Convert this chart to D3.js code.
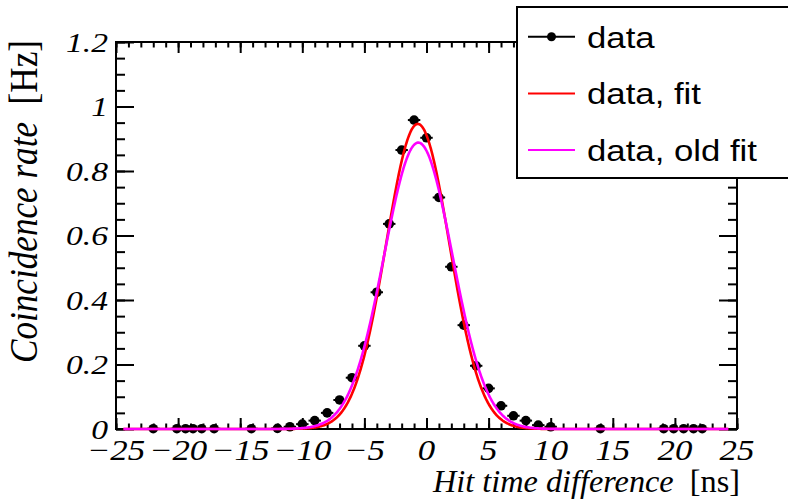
<!DOCTYPE html>
<html>
<head>
<meta charset="utf-8">
<script src="https://cdn.jsdelivr.net/npm/d3@7"></script>
<style>
  body { margin: 0; background: #fff; }
  svg { display: block; }
</style>
</head>
<body>
<script>
// chart data
const timeDiff = [-22, -20.1, -19.4, -18.8, -18.1, -17.1, -14.1, -12, -11, -10, -9, -8, -7, -6, -5, -4, -3, -2, -1, 0,
                  1, 2, 3, 4, 5, 6, 7, 8, 9, 10, 14, 19.1, 19.9, 20.7, 21.5, 22.2];
const rate = [0.001, 0.001, 0.001, 0.001, 0.001, 0.001, 0.001, 0.002, 0.007, 0.015, 0.026, 0.05, 0.09, 0.159, 0.258, 0.424, 0.636, 0.865, 0.958, 0.903,
              0.718, 0.503, 0.322, 0.196, 0.126, 0.072, 0.041, 0.026, 0.012, 0.007, 0.001, 0.001, 0.001, 0.001, 0.001, 0.001];
const timeErr = 0.5;

// gaussian fit parameters (amplitude, mean, sigma)
const fitNew = [0.946, -0.7, 2.55];
const fitOld = [0.888, -0.66, 2.75];
const fitRange = [-24.4, 24.3];

const xTicks = [-25, -20, -15, -10, -5, 0, 5, 10, 15, 20, 25];
const xTickLabels = ["\u221225", "\u221220", "\u221215", "\u221210", "\u22125", "0", "5", "10", "15", "20", "25"];
const yTicks = [0, 0.2, 0.4, 0.6, 0.8, 1, 1.2];
const yTickLabels = ["0", "0.2", "0.4", "0.6", "0.8", "1", "1.2"];

const legendItems = ["data", "data, fit", "data, old fit"];
const legendColors = ["#000", "#ff0000", "#ff00ff"];

const width = 788;
const height = 502;
const stretch = 1.2;   // glyphs are wider than tall in the picture

const serif = '"Liberation Serif"';
const sans = '"Liberation Sans"';

const svg = d3.select("body").append("svg")
  .attr("width", width)
  .attr("height", height);

const x = d3.scaleLinear().domain([-25, 25]).range([116, 737]);
const y = d3.scaleLinear().domain([0, 1.2]).range([429, 42]);

// widen text along its baseline without a scale transform
function widen(sel, k) {
  sel.each(function() {
    const w = this.getComputedTextLength();
    d3.select(this).attr("textLength", w * k).attr("lengthAdjust", "spacingAndGlyphs");
  });
}

// ticks on all four sides, pointing inward
const xMinor = d3.range(-25, 25.01, 1);
const yMinor = d3.range(0, 1.2001, 0.05);

function tickAxis(axis, transform) {
  const g = svg.append("g").attr("transform", transform).call(axis);
  g.select(".domain").remove();
  g.selectAll("line").attr("stroke", "#000").attr("stroke-width", 2);
  g.selectAll("text").remove();
  return g;
}

tickAxis(d3.axisBottom(x).tickValues(xMinor).tickSize(-5.5), `translate(0,${y(0)})`);
tickAxis(d3.axisBottom(x).tickValues(xTicks).tickSize(-11), `translate(0,${y(0)})`);
tickAxis(d3.axisTop(x).tickValues(xMinor).tickSize(-5.5), `translate(0,${y(1.2)})`);
tickAxis(d3.axisTop(x).tickValues(xTicks).tickSize(-11), `translate(0,${y(1.2)})`);
tickAxis(d3.axisLeft(y).tickValues(yMinor).tickSize(-9), `translate(${x(-25)},0)`);
tickAxis(d3.axisLeft(y).tickValues(yTicks).tickSize(-18), `translate(${x(-25)},0)`);
tickAxis(d3.axisRight(y).tickValues(yMinor).tickSize(-9), `translate(${x(25)},0)`);
tickAxis(d3.axisRight(y).tickValues(yTicks).tickSize(-18), `translate(${x(25)},0)`);

// frame
svg.append("rect")
  .attr("x", x(-25)).attr("y", y(1.2))
  .attr("width", x(25) - x(-25)).attr("height", y(0) - y(1.2))
  .attr("fill", "none").attr("stroke", "#000").attr("stroke-width", 2);

// tick labels
svg.append("g").selectAll("text")
  .data(xTicks)
  .join("text")
  .attr("x", d => x(d)).attr("y", 460)
  .attr("text-anchor", "middle")
  .style("font-family", serif).style("font-style", "italic").style("font-size", "29px")
  .text((d, i) => xTickLabels[i])
  .call(widen, stretch);

svg.append("g").selectAll("text")
  .data(yTicks)
  .join("text")
  .attr("x", 108).attr("y", d => y(d) + 9.5)
  .attr("text-anchor", "end")
  .style("font-family", serif).style("font-style", "italic").style("font-size", "28px")
  .text((d, i) => yTickLabels[i])
  .call(widen, stretch);

// axis titles
const xTitle = svg.append("text")
  .attr("x", 740).attr("y", 492)
  .attr("text-anchor", "end")
  .style("font-family", serif).style("font-size", "31px");
xTitle.append("tspan").style("font-style", "italic").text("Hit time difference");
xTitle.append("tspan").text("\u00a0 [ns]");
xTitle.attr("textLength", 307).attr("lengthAdjust", "spacingAndGlyphs");

const yTitle = svg.append("text")
  .attr("transform", "translate(37,40) rotate(-90)")
  .attr("text-anchor", "end")
  .style("font-family", serif).style("font-size", "40px");
yTitle.append("tspan").style("font-style", "italic").text("Coincidence rate");
yTitle.append("tspan").text("\u00a0 [Hz]");
yTitle.attr("textLength", 323).attr("lengthAdjust", "spacingAndGlyphs");

// data points with horizontal error bars
const points = timeDiff.map((t, i) => ({t, r: rate[i]}));
const pts = svg.append("g");
pts.selectAll("line")
  .data(points)
  .join("line")
  .attr("x1", d => x(d.t - timeErr)).attr("x2", d => x(d.t + timeErr))
  .attr("y1", d => y(d.r)).attr("y2", d => y(d.r))
  .attr("stroke", "#000").attr("stroke-width", 2);
pts.selectAll("circle")
  .data(points)
  .join("circle")
  .attr("cx", d => x(d.t)).attr("cy", d => y(d.r))
  .attr("r", 4.8)
  .attr("fill", "#000");

// fit curves
function gaus(p) {
  return d3.range(fitRange[0], fitRange[1] + 0.001, 0.05)
    .map(t => [t, p[0] * Math.exp(-0.5 * ((t - p[1]) / p[2]) ** 2)]);
}
const line = d3.line().x(d => x(d[0])).y(d => y(d[1]));

svg.append("path").datum(gaus(fitNew))
  .attr("d", line).attr("fill", "none")
  .attr("stroke", legendColors[1]).attr("stroke-width", 2.6);
svg.append("path").datum(gaus(fitOld))
  .attr("d", line).attr("fill", "none")
  .attr("stroke", legendColors[2]).attr("stroke-width", 2.6);

// legend box, runs off the right edge
const legend = svg.append("g");
legend.append("rect")
  .attr("x", 517).attr("y", 7).attr("width", 300).attr("height", 171)
  .attr("fill", "#fff").attr("stroke", "#000").attr("stroke-width", 2);

const rows = legend.selectAll("g")
  .data(legendItems)
  .join("g")
  .attr("transform", (d, i) => `translate(0,${36.7 + i * 56.7})`);
rows.append("line")
  .attr("x1", 528).attr("x2", 575)
  .attr("stroke", (d, i) => legendColors[i]).attr("stroke-width", 2);
rows.filter((d, i) => i === 0).append("circle")
  .attr("cx", 551.5).attr("r", 4.5).attr("fill", "#000");
const legendText = rows.append("text")
  .attr("x", 587).attr("y", 11)
  .style("font-family", sans).style("font-size", "30px")
  .text(d => d);
// longest entry spans ~170px in the picture, same widening for all
const longest = d3.max(legendText.nodes(), n => n.getComputedTextLength());
legendText.call(widen, 170 / longest);
</script>
</body>
</html>
